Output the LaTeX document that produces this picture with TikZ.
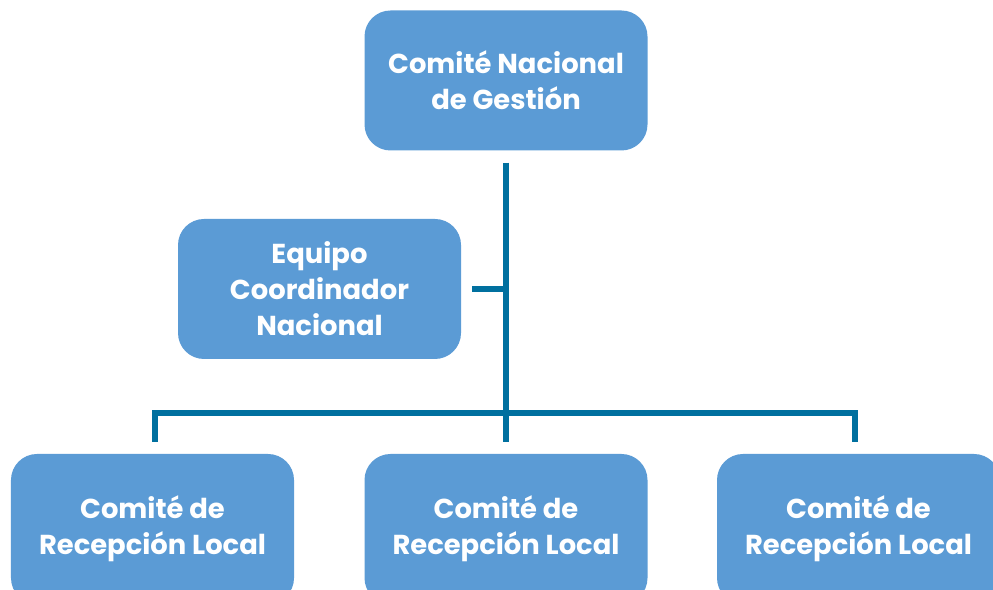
\documentclass[tikz,border=0pt]{standalone}
\usepackage{fontspec}
\setmainfont{Poppins}
\definecolor{boxblue}{HTML}{5B9BD5}
\definecolor{lineblue}{HTML}{00709F}
\begin{document}
\begin{tikzpicture}[x=1bp,y=1bp,
  box/.style={fill=boxblue, rounded corners=26bp, minimum width=283bp, minimum height=140bp,
    align=center, text=white, font=\fontsize{27.5}{36}\selectfont\bfseries, inner sep=0pt},
  lowbox/.style={box, minimum height=150bp},
  conn/.style={draw=lineblue, line width=6bp}]
\useasboundingbox (0,0) rectangle (993,590);
\node[box] (top) at (506,509.5) {Comité Nacional\\de Gestión};
\node[box] (eq) at (319.5,301) {Equipo\\Coordinador\\Nacional};
\node[lowbox] (c1) at (152.5,61) {Comité de\\Recepción Local};
\node[lowbox] (c2) at (506,61) {Comité de\\Recepción Local};
\node[lowbox] (c3) at (858.5,61) {Comité de\\Recepción Local};
\coordinate (bus) at (506,177);
\coordinate (t1) at (155,148);
\coordinate (t3) at (855,148);
\draw[conn, shorten <=12bp, shorten >=12bp] (top.south) -- (c2.north);
\draw[conn, line join=miter] (t1) -- (t1 |- bus) -- (t3 |- bus) -- (t3);
\draw[conn, shorten <=11bp] (eq.east) -- (eq.east -| bus);
\end{tikzpicture}
\end{document}
